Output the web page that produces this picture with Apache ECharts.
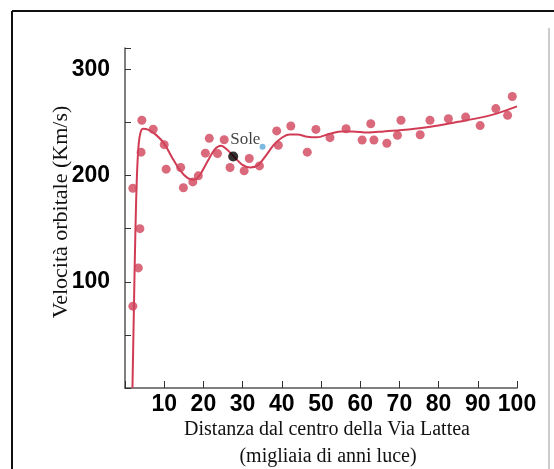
<!DOCTYPE html>
<html>
<head>
<meta charset="utf-8">
<script src="https://cdn.jsdelivr.net/npm/echarts@6/dist/echarts.min.js"></script>
<style>
html,body{margin:0;padding:0;background:#fff;}
#c{width:554px;height:469px;}
</style>
</head>
<body>
<div id="c"></div>
<script>
// Observed data points (distance in thousands of ly, velocity km/s)
var obsX = [2.0,3.4,3.8,2.0,4.1,4.3,7.2,10,10.5,14.2,14.9,17.3,18.7,20.5,21.5,23.6,25.3,26.8,30.4,31.7,34.3,38.7,39.1,42.3,46.5,48.7,52.3,56.4,60.5,62.7,63.5,66.8,69.5,70.4,75.3,77.8,82.5,86.9,90.6,94.6,97.6,98.8];
var obsY = [77,113,150,188,222,252,243.5,229,206,207.5,188.5,194,199.7,221,235,220.6,233.7,207.5,204.4,216,209,242,228.5,246.6,222,243.4,235.6,244,233.4,248.7,233.4,230.3,237.8,252,238.4,252,253.4,255,247,263,256.6,274.4];
// Rotation curve (fit)
var curveX = [1.9,2.2,2.5,2.8,3.1,3.5,4.0,4.6,6,8,10,12,14,16,17.5,19,21,23,24.5,26,28,30,32,34,36,38,40,42,44,46.5,49,52,55,58,62,66,70,75,80,85,90,95,100];
var curveY = [0,60,120,170,205,230,241,244,243,238,230,217,205,197.5,196,200,213,225,228,224.5,217,210,207.5,210,219,229,235.5,238.5,238.5,236.5,236,239,241.5,241.5,240.5,241.5,242.5,244.5,247,250.5,254,258.5,265];
// Sun and second marker
var sunPoint = [27.6, 217.8];
var sunLabel = 'Sole';
var bluePoint = [35.1, 227];
var xTicks = [10,20,30,40,50,60,70,80,90,100];
var yTicks = [100,200,300];
var xTitle = 'Distanza dal centro della Via Lattea';
var xSubtitle = '(migliaia di anni luce)';
var yTitle = 'Velocità orbitale (Km/s)';

var obs = obsX.map(function(x,i){return [x, obsY[i]];});
var curve = curveX.map(function(x,i){return [x, curveY[i]];});

var tickFont = {fontFamily:"'Liberation Sans',Arial,sans-serif", fontWeight:'bold', fontSize:23, color:'#000'};
var serif = "'Liberation Serif', 'Times New Roman', serif";

var chart = echarts.init(document.getElementById('c'), null, {renderer:'canvas'});
chart.setOption({
  animation:false,
  backgroundColor:'#fff',
  grid:{left:125,right:37,top:48,bottom:81,containLabel:false},
  xAxis:{
    type:'value', min:0, max:100, interval:10,
    axisLine:{show:true,onZero:false,lineStyle:{color:'#555',width:1.5}},
    axisTick:{show:true,inside:true,length:7,lineStyle:{color:'#333',width:1}},
    splitLine:{show:false},
    axisLabel:Object.assign({margin:5,formatter:function(v){return xTicks.indexOf(v)>=0?String(v):'';}}, tickFont)
  },
  yAxis:{
    type:'value', min:0, max:320, interval:50,
    axisLine:{show:true,onZero:false,lineStyle:{color:'#555',width:1.5}},
    axisTick:{show:true,inside:true,length:6,lineStyle:{color:'#333',width:1}},
    splitLine:{show:false},
    axisLabel:Object.assign({margin:15,formatter:function(v){return yTicks.indexOf(v)>=0?String(v):'';}}, tickFont)
  },
  graphic:[
    {type:'line',shape:{x1:12,y1:11,x2:554,y2:11},style:{stroke:'#111',lineWidth:2}},
    {type:'line',shape:{x1:12,y1:11,x2:12,y2:469},style:{stroke:'#111',lineWidth:2}},
    {type:'line',shape:{x1:549,y1:28,x2:549,y2:469},style:{stroke:'#999',lineWidth:1}},
    {type:'text',x:327,y:430,style:{text:xTitle,font:"20px "+serif,fill:'#111',align:'center',verticalAlign:'middle'}},
    {type:'text',x:328,y:457,style:{text:xSubtitle,font:"20px "+serif,fill:'#111',align:'center',verticalAlign:'middle'}},
    {type:'text',x:61,y:212,rotation:Math.PI/2,style:{text:yTitle,font:"22px "+serif,fill:'#111',align:'center',verticalAlign:'middle'}}
  ],
  series:[
    {type:'line',data:curve,smooth:0.3,symbol:'none',lineStyle:{color:'#d13c54',width:2},z:2},
    {type:'scatter',data:obs,symbolSize:9,itemStyle:{color:'#d0435a'},z:3},
    {type:'scatter',data:[bluePoint],symbolSize:6,itemStyle:{color:'#5aa7d8'},z:4},
    {type:'scatter',data:[sunPoint],symbolSize:10,itemStyle:{color:'#000'},z:5,
      label:{show:true,formatter:sunLabel,position:[2,-21],fontFamily:serif,fontSize:17,color:'#111'}}
  ]
});
</script>
</body>
</html>
